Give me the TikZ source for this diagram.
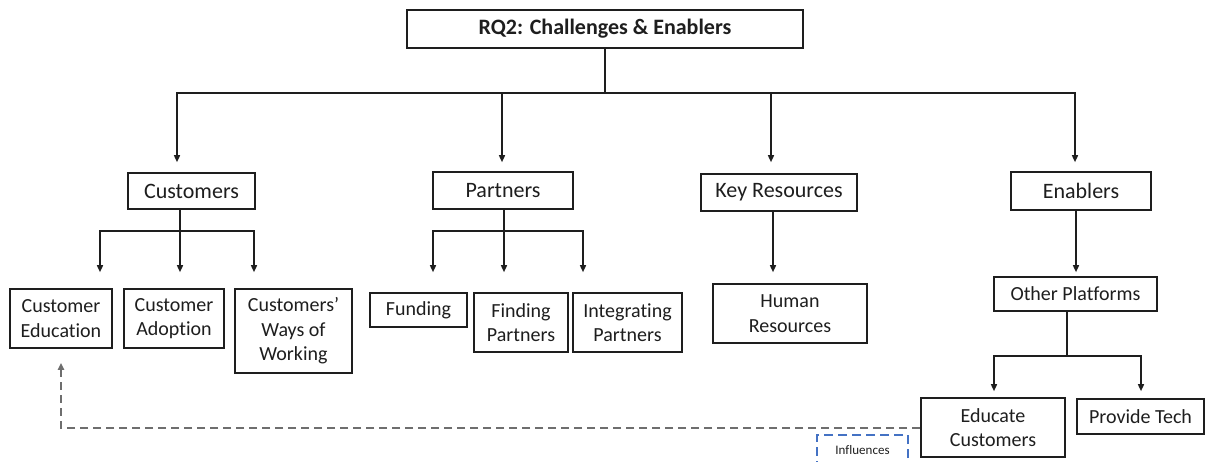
\documentclass[tikz,border=0pt]{standalone}
\usepackage{fontspec}
\setmainfont[Ligatures={NoCommon}]{Carlito}
\usetikzlibrary{arrows.meta,positioning}
\definecolor{ink}{HTML}{1E1E1E}
\definecolor{dashgray}{HTML}{6E6E6E}
\definecolor{inflblue}{HTML}{4472C4}
\tikzset{
  box/.style={draw=ink, line width=1.6pt, text=ink, inner sep=0pt, align=center},
  topbox/.style={box, font=\fontsize{22}{26}\selectfont},
  subbox/.style={box, font=\fontsize{20}{24.5}\selectfont},
  titlebox/.style={box, line width=2.6pt, font=\fontsize{22}{26}\selectfont\bfseries},
  conn/.style={draw=ink, line width=1.5pt},
  arr/.style={conn, -{Triangle[length=7pt,width=6pt]}},
  dasharr/.style={draw=dashgray, line width=2pt, dash pattern=on 8pt off 5pt, -{Triangle[length=7pt,width=6pt]}},
  inflbox/.style={draw=inflblue, line width=2pt, dash pattern=on 9pt off 5pt, text=ink, inner sep=0pt, font=\fontsize{13}{15}\selectfont}
}
\begin{document}
\begin{tikzpicture}[x=1pt,y=-1pt]
\path[use as bounding box, fill=white] (0,0) rectangle (1208,462);
\clip (0,0) rectangle (1208,462);

% nodes
\node[titlebox, minimum width=396pt, minimum height=38pt] (title) at (605,29) {RQ2: Challenges \& Enablers};

\node[topbox, minimum width=127pt, minimum height=36pt] (customers) at (191.5,191) {Customers};
\node[topbox, minimum width=140pt, minimum height=37pt] (partners) at (503,190.5) {Partners};
\node[topbox, minimum width=156pt, minimum height=37pt] (keyres) at (779,192.5) {Key Resources};
\node[topbox, minimum width=140pt, minimum height=38pt] (enablers) at (1081,191) {Enablers};

\node[subbox, minimum width=102pt, minimum height=59pt] (custedu) at (61,318.5) {Customer\\Education};
\node[subbox, minimum width=100pt, minimum height=59pt] (custadopt) at (174,318.5) {Customer\\Adoption};
\node[subbox, minimum width=117pt, minimum height=84pt] (custways) at (293.5,331) {Customers’\\Ways of\\Working};

\node[subbox, minimum width=97pt, minimum height=34pt] (funding) at (418.5,310) {Funding};
\node[subbox, minimum width=94pt, minimum height=59pt] (finding) at (521,322.5) {Finding\\Partners};
\node[subbox, minimum width=109pt, minimum height=59pt] (integrating) at (627.5,322.5) {Integrat\kern0pt ing\\Partners};

\node[subbox, minimum width=154pt, minimum height=59pt] (human) at (790,313.5) {Human\\Resources};

\node[subbox, minimum width=163pt, minimum height=34pt] (other) at (1075.5,294) {Other Platforms};
\node[subbox, minimum width=144pt, minimum height=59pt] (educate) at (993,427.5) {Educate\\Customers};
\node[subbox, minimum width=127pt, minimum height=35pt] (provide) at (1140.5,416.5) {Provide Tech};

\node[inflbox, minimum width=91pt, minimum height=30pt] (infl) at (862.5,450) {Influences};

% bus coordinates
\coordinate (bus) at (605,93);
\coordinate (cbus) at (180,231);
\coordinate (pbus) at (504,231);
\coordinate (obus) at (1067,356);

% top level
\draw[conn] (title.south) -- (bus);
\draw[conn] ([xshift=-14.5pt]customers.north |- bus) -- ([xshift=-6pt]enablers.north |- bus);
\draw[arr] (bus) -| ([xshift=-14.5pt,yshift=10pt]customers.north);
\draw[arr] (bus) -| ([xshift=-1pt,yshift=9pt]partners.north);
\draw[arr] (bus) -| ([xshift=-8pt,yshift=11pt]keyres.north);
\draw[arr] (bus) -| ([xshift=-6pt,yshift=9pt]enablers.north);

% customers
\draw[conn] ([xshift=-11.5pt]customers.south) -- (cbus);
\draw[arr] (cbus) -| ([xshift=39pt,yshift=16pt]custedu.north);
\draw[arr] (cbus) -| ([xshift=6pt,yshift=16pt]custadopt.north);
\draw[arr] (cbus) -| ([xshift=-39.5pt,yshift=16pt]custways.north);

% partners
\draw[conn] ([xshift=1pt]partners.south) -- (pbus);
\draw[arr] (pbus) -| ([xshift=14.5pt,yshift=20pt]funding.north);
\draw[arr] (pbus) -| ([xshift=-17pt,yshift=20pt]finding.north);
\draw[arr] (pbus) -| ([xshift=-44.5pt,yshift=20pt]integrating.north);

% key resources
\draw[arr] ([xshift=-6pt]keyres.south) -- ([xshift=-17pt,yshift=11pt]human.north);

% enablers
\draw[arr] ([xshift=-5pt]enablers.south) -- ([xshift=0.5pt,yshift=4pt]other.north);
\draw[conn] ([xshift=-8.5pt]other.south) -- (obus);
\draw[arr] (obus) -| ([xshift=1pt,yshift=6pt]educate.north);
\draw[arr] (obus) -| ([xshift=0.5pt,yshift=7pt]provide.north);

% influence
\draw[dasharr] (educate.west) -| ([yshift=-14pt]custedu.south);
\end{tikzpicture}
\end{document}
